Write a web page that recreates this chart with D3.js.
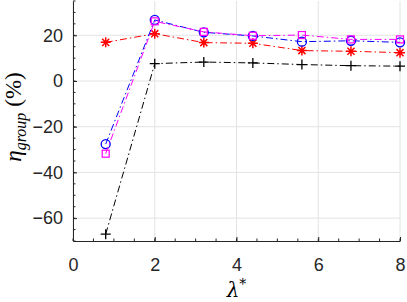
<!DOCTYPE html>
<html>
  <head>
    <script type="text/javascript" src="https://cdnjs.cloudflare.com/ajax/libs/d3/7.8.5/d3.min.js"></script>
    <style>
      body { margin: 0; background: #fff; }
    </style>
  </head>
  <body>
  <script>

    var lambdas = [0.8, 2, 3.2, 4.4, 5.6, 6.8, 8];
    var blackVals = [-67, 7.6, 8.3, 7.9, 7.2, 6.7, 6.5];
    var redVals = [16.9, 20.7, 16.8, 16.5, 13.3, 13.0, 12.4];
    var blueVals = [-27.6, 26.7, 21.3, 19.7, 17.2, 17.6, 16.9];
    var magentaVals = [-31.8, 26.1, 21.5, 19.8, 20.1, 18.2, 18.2];
    var xTicks = [0, 2, 4, 6, 8];
    var yTicks = [-60, -40, -20, 0, 20];

    var W = 407, H = 302;
    var mLeft = 73, mRight = 400, mTop = 1, mBottom = 241;

    var svg = d3.select('body')
              .append('svg')
              .attr('width', W)
              .attr('height', H)
              .style('font-family', 'Liberation Sans, Arial, sans-serif');

    var x = d3.scaleLinear().domain([0, 8]).range([mLeft, mRight]);
    var y = d3.scaleLinear().domain([-70, 35]).range([mBottom, mTop]);

    // grid
    svg.selectAll('.gx').data(xTicks).enter().append('line')
      .attr('x1', function(d) { return x(d); })
      .attr('x2', function(d) { return x(d); })
      .attr('y1', mTop).attr('y2', mBottom)
      .attr('stroke', '#e3e3e3').attr('stroke-width', 1);
    svg.selectAll('.gy').data(yTicks).enter().append('line')
      .attr('x1', mLeft).attr('x2', mRight)
      .attr('y1', function(d) { return y(d); })
      .attr('y2', function(d) { return y(d); })
      .attr('stroke', '#e3e3e3').attr('stroke-width', 1);

    // axes, ticks inward
    var xAxis = d3.axisBottom(x).tickValues(xTicks).tickSizeInner(-4).tickSizeOuter(0).tickPadding(18);
    var yAxis = d3.axisLeft(y).tickValues(yTicks).tickSizeInner(-4).tickSizeOuter(0).tickPadding(10);

    var gx = svg.append('g').attr('transform', 'translate(0,' + mBottom + ')').call(xAxis);
    var gy = svg.append('g').attr('transform', 'translate(' + mLeft + ',0)').call(yAxis);

    [gx, gy].forEach(function(g) {
      g.select('.domain').attr('stroke', '#262626');
      g.selectAll('.tick line').attr('stroke', '#262626');
      g.selectAll('.tick text').attr('fill', '#262626').style('font-size', '18px')
        .style('font-family', 'Liberation Sans, Arial, sans-serif');
    });
    gx.selectAll('.tick text').attr('dy', '0.71em').attr('y', 17);

    // minor ticks
    var xMinor = d3.range(0, 8.01, 0.5);
    svg.selectAll('.mx').data(xMinor).enter().append('line')
      .attr('x1', function(d) { return x(d); })
      .attr('x2', function(d) { return x(d); })
      .attr('y1', mBottom).attr('y2', mBottom - 2.5)
      .attr('stroke', '#262626');
    var yMinor = d3.range(-70, 35.01, 5);
    svg.selectAll('.my').data(yMinor).enter().append('line')
      .attr('x1', mLeft).attr('x2', mLeft + 2.5)
      .attr('y1', function(d) { return y(d); })
      .attr('y2', function(d) { return y(d); })
      .attr('stroke', '#262626');

    // series
    var series = [
      { vals: blackVals, color: '#000000', marker: 'plus' },
      { vals: redVals, color: '#ff0000', marker: 'star' },
      { vals: blueVals, color: '#0000ff', marker: 'circle' },
      { vals: magentaVals, color: '#ff00ff', marker: 'square' }
    ];

    var line = d3.line()
      .x(function(d) { return x(d[0]); })
      .y(function(d) { return y(d[1]); });

    series.forEach(function(s) {
      var pts = lambdas.map(function(l, i) { return [l, s.vals[i]]; });
      svg.append('path')
        .attr('d', line(pts))
        .attr('fill', 'none')
        .attr('stroke', s.color)
        .attr('stroke-width', 1)
        .attr('stroke-dasharray', '7,3,1.5,3');

      var g = svg.append('g');
      pts.forEach(function(p) {
        var cx = x(p[0]), cy = y(p[1]);
        if (s.marker === 'plus') {
          g.append('path').attr('d', 'M' + (cx - 5) + ',' + cy + 'H' + (cx + 5) + 'M' + cx + ',' + (cy - 5) + 'V' + (cy + 5))
            .attr('stroke', s.color).attr('stroke-width', 1.3);
        } else if (s.marker === 'star') {
          var d = '';
          for (var k = 0; k < 4; k++) {
            var a = k * Math.PI / 4;
            var dx = 5 * Math.cos(a), dy = 5 * Math.sin(a);
            d += 'M' + (cx - dx) + ',' + (cy - dy) + 'L' + (cx + dx) + ',' + (cy + dy);
          }
          g.append('path').attr('d', d).attr('stroke', s.color).attr('stroke-width', 1.5);
        } else if (s.marker === 'circle') {
          g.append('circle').attr('cx', cx).attr('cy', cy).attr('r', 4.5)
            .attr('fill', 'none').attr('stroke', s.color).attr('stroke-width', 1.3);
        } else {
          g.append('rect').attr('x', cx - 3.5).attr('y', cy - 3.5).attr('width', 7).attr('height', 7)
            .attr('fill', 'none').attr('stroke', s.color).attr('stroke-width', 1.2);
        }
      });
    });

    // axis labels
    var xl = svg.append('text')
      .attr('x', (mLeft + mRight) / 2)
      .attr('y', 297)
      .attr('text-anchor', 'middle')
      .style('font-family', 'DejaVu Serif, Liberation Serif, serif')
      .style('font-size', '20px')
      .attr('fill', '#000');
    xl.append('tspan').style('font-style', 'italic').text('λ');
    xl.append('tspan').attr('dy', -8).style('font-size', '14px').text('*');

    var yl = svg.append('text')
      .attr('transform', 'translate(21,117) rotate(-90)')
      .attr('text-anchor', 'middle')
      .style('font-family', 'Liberation Serif, DejaVu Serif, serif')
      .style('font-size', '23px')
      .attr('fill', '#000');
    yl.append('tspan').style('font-style', 'italic').text('η');
    yl.append('tspan').attr('dy', 5).style('font-style', 'italic').style('font-size', '16px').text('group');
    yl.append('tspan').attr('dy', -5).attr('dx', 6).text('(%)');

  </script>
 </body>
</html>
